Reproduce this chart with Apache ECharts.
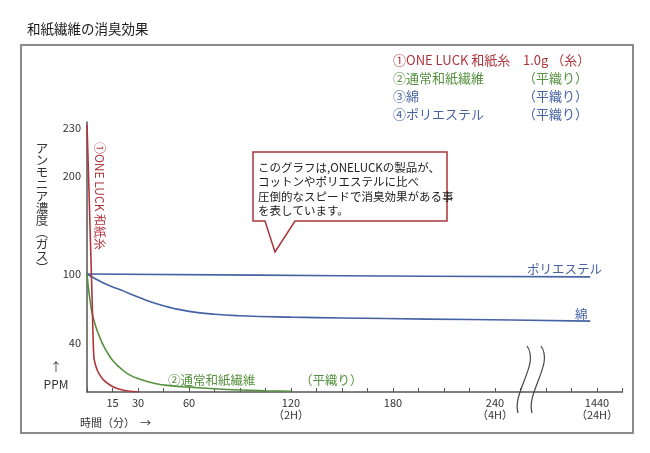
<!DOCTYPE html>
<html><head><meta charset="utf-8">
<script src="https://cdn.jsdelivr.net/npm/echarts@6/dist/echarts.min.js"></script>
<style>html,body{margin:0;padding:0;background:#fff}#c{width:650px;height:453px}</style>
</head><body><div id="c"></div>
<script>
const FONT = '"Noto Sans CJK JP", "Noto Sans", sans-serif';

// X axis: minutes. 1440 min is drawn after the axis break at position 300.
const xLabelValues = [15, 30, 60, 120, 180, 240, 300];
const xLabelTexts  = ['15', '30', '60', '120\n（2H）', '180', '240\n（4H）', '1440\n（24H）'];

// Y axis: PPM on a non-uniform (hand-drawn) scale, piecewise linear between knots
const yLabelPPM  = [230, 200, 100, 40];
const yScalePPM  = [0, 40, 100, 200, 230];
const yScalePos  = [0, 49, 118, 216, 264];

// Series (minutes, ppm)
const oneLuck   = [[0,232],[1,195],[2,135],[3,79],[4,29],[5,22],[6,18],[7.5,14],[10,9.5],[13.5,5.7],[17,3.2],[21,1.6],[25,0.6],[30,0]];
const washi     = [[0,100],[1,86],[2,75],[3,66],[5,55],[7.5,45],[10,37],[12.5,31],[15,26],[20,19],[25,14],[30,11],[40,7],[50,5],[60,4],[75,2.6],[90,1.6],[105,1],[120,0.6]];
const cotton    = [[0,100],[10,92],[20,86],[30,80],[40,74.5],[50,70.5],[60,67.5],[75,65],[90,63.7],[120,62.5],[150,61.8],[200,60.8],[250,60],[296,59]];
const polyester = [[0,100],[100,99],[200,98],[296,97.5]];

const RED = '#b0343c', GREEN = '#55913f', BLUE = '#4562a3';

function toPos(p) {
  for (let i = 1; i < yScalePPM.length; i++) {
    if (p <= yScalePPM[i] || i === yScalePPM.length - 1) {
      const a = yScalePPM[i-1], b = yScalePPM[i];
      const pa = yScalePos[i-1], pb = yScalePos[i];
      return pa + (p - a) * (pb - pa) / (b - a);
    }
  }
}
const yLabelPos = yLabelPPM.map(toPos);
const conv = arr => arr.map(d => [d[0], toPos(d[1])]);

const chart = echarts.init(document.getElementById('c'), null, {renderer: 'canvas'});

function txt(x, y, text, color, size) {
  return {type: 'text', x: x, y: y, z: 10,
    style: {text: text, fill: color, font: size + 'px ' + FONT, verticalAlign: 'middle'}};
}

const lineStyle = (c) => ({color: c, width: 1.6});

const option = {
  backgroundColor: '#fff',
  animation: false,
  grid: {left: 87, right: 27.5, top: 122, bottom: 61},
  xAxis: {
    type: 'value', min: 0, max: 315, interval: 15,
    axisLine: {lineStyle: {color: '#555', width: 1.5}},
    axisTick: {inside: true, length: 4, lineStyle: {color: '#555', width: 1}},
    splitLine: {show: false},
    axisLabel: {
      customValues: xLabelValues,
      formatter: v => { const i = xLabelValues.indexOf(v); return i >= 0 ? xLabelTexts[i] : ''; },
      color: '#333', fontSize: 11, lineHeight: 12, margin: 5, fontFamily: FONT
    }
  },
  yAxis: {
    type: 'value', min: 0, max: 270,
    axisLine: {show: true, lineStyle: {color: '#555', width: 1.5}},
    axisTick: {show: false},
    splitLine: {show: false},
    axisLabel: {
      customValues: yLabelPos,
      formatter: v => {
        let best = 0;
        yLabelPos.forEach((p, i) => { if (Math.abs(p - v) < Math.abs(yLabelPos[best] - v)) best = i; });
        return String(yLabelPPM[best]);
      },
      color: '#333', fontSize: 11, margin: 6, fontFamily: FONT
    }
  },
  series: [
    {name: 'ポリエステル', type: 'line', data: conv(polyester), showSymbol: false, smooth: 0.5, lineStyle: lineStyle(BLUE), z: 3},
    {name: '綿', type: 'line', data: conv(cotton), showSymbol: false, smooth: 0.5, lineStyle: lineStyle(BLUE), z: 3},
    {name: '通常和紙繊維', type: 'line', data: conv(washi), showSymbol: false, smooth: 0.5, lineStyle: lineStyle(GREEN), z: 4},
    {name: 'ONE LUCK 和紙糸', type: 'line', data: conv(oneLuck), showSymbol: false, smooth: 0.3, lineStyle: lineStyle(RED), z: 5}
  ],
  graphic: [
    {type: 'rect', shape: {x: 21, y: 45, width: 612, height: 388}, style: {fill: 'none', stroke: '#8a8a8a', lineWidth: 2}, z: 1},
    txt(27, 29, '和紙繊維の消臭効果', '#1a1a1a', 13.5),
    // legend block
    txt(393, 60, '①ONE LUCK 和紙糸', RED, 13),
    txt(523, 60, '1.0g （糸）', RED, 13),
    txt(393, 78, '②通常和紙繊維', GREEN, 13),
    txt(523, 78, '（平織り）', GREEN, 13),
    txt(393, 96, '③綿', BLUE, 13),
    txt(523, 96, '（平織り）', BLUE, 13),
    txt(393, 114, '④ポリエステル', BLUE, 13),
    txt(523, 114, '（平織り）', BLUE, 13),
    // y axis name (vertical)
    {type: 'text', x: 42, y: 142, z: 10, style: {text: 'アンモニア濃度︵ガス︶'.split('').join('\n'), fill: '#333', font: '12.5px ' + FONT, align: 'center', verticalAlign: 'top', lineHeight: 12}},
    {type: 'text', x: 56, y: 367, z: 10, style: {text: '↑', fill: '#333', font: '12px ' + FONT, align: 'center', verticalAlign: 'middle'}},
    {type: 'text', x: 56, y: 384, z: 10, style: {text: 'PPM', fill: '#333', font: '12px ' + FONT, align: 'center', verticalAlign: 'middle'}},
    txt(80, 423, '時間（分）  →', '#333', 11),
    // series labels
    {type: 'text', x: 99.5, y: 196, rotation: -Math.PI / 2, z: 10, style: {text: '①ONE LUCK 和紙糸', fill: RED, font: '12px ' + FONT, align: 'center', verticalAlign: 'middle'}},
    txt(168, 380, '②通常和紙繊維', GREEN, 12.5),
    txt(300, 380, '（平織り）', GREEN, 12.5),
    txt(527, 269, 'ポリエステル', BLUE, 12.5),
    txt(575, 314, '綿', BLUE, 12.5),
    // callout
    {type: 'polygon', z: 8, shape: {points: [[253,152],[447,152],[447,221],[295,221],[275,252],[265,221],[253,221]]}, style: {fill: '#fff', stroke: '#a8343c', lineWidth: 1.5}},
    {type: 'text', x: 258, y: 160, z: 10, style: {text: 'このグラフは,ONELUCKの製品が、\nコットンやポリエステルに比べ\n圧倒的なスピードで消臭効果がある事\nを表しています。', fill: '#222', font: '11.5px ' + FONT, lineHeight: 14.5, verticalAlign: 'top'}},
    // axis break marks
    {type: 'bezierCurve', z: 9, shape: {x1: 527, y1: 346, cpx1: 540, cpy1: 364, cpx2: 512, cpy2: 392, x2: 518, y2: 413}, style: {stroke: '#444', lineWidth: 1.2, fill: 'none'}},
    {type: 'bezierCurve', z: 9, shape: {x1: 541, y1: 346, cpx1: 554, cpy1: 364, cpx2: 526, cpy2: 392, x2: 532, y2: 413}, style: {stroke: '#444', lineWidth: 1.2, fill: 'none'}}
  ]
};
chart.setOption(option);
</script>
</body></html>
